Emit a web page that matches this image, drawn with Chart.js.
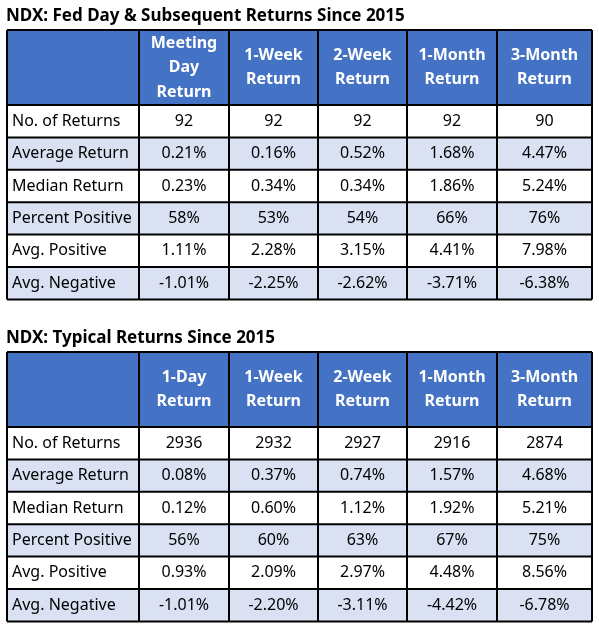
<!DOCTYPE html>
<html><head><meta charset="utf-8">
<script src="https://cdn.jsdelivr.net/npm/chart.js@4/dist/chart.umd.min.js"></script>
<style>html,body{margin:0;padding:0;background:#fff}#c{display:block}</style>
</head><body>
<div style="width:599px;height:633px"><canvas id="c"></canvas></div>
<script>
const rowLabels = ["No. of Returns","Average Return","Median Return","Percent Positive","Avg. Positive","Avg. Negative"];
const title1 = "NDX: Fed Day & Subsequent Returns Since 2015";
const headers1 = [["Meeting","Day","Return"],["1-Week","Return"],["2-Week","Return"],["1-Month","Return"],["3-Month","Return"]];
const fedCount = ["92","92","92","92","90"];
const fedAvg = ["0.21%","0.16%","0.52%","1.68%","4.47%"];
const fedMedian = ["0.23%","0.34%","0.34%","1.86%","5.24%"];
const fedPctPos = ["58%","53%","54%","66%","76%"];
const fedAvgPos = ["1.11%","2.28%","3.15%","4.41%","7.98%"];
const fedAvgNeg = ["-1.01%","-2.25%","-2.62%","-3.71%","-6.38%"];
const title2 = "NDX: Typical Returns Since 2015";
const headers2 = [["1-Day","Return"],["1-Week","Return"],["2-Week","Return"],["1-Month","Return"],["3-Month","Return"]];
const typCount = ["2936","2932","2927","2916","2874"];
const typAvg = ["0.08%","0.37%","0.74%","1.57%","4.68%"];
const typMedian = ["0.12%","0.60%","1.12%","1.92%","5.21%"];
const typPctPos = ["56%","60%","63%","67%","75%"];
const typAvgPos = ["0.93%","2.09%","2.97%","4.48%","8.56%"];
const typAvgNeg = ["-1.01%","-2.20%","-3.11%","-4.42%","-6.78%"];

const colEdges = [7,139,229,318,407,497,592];
const tables = [
  {title:title1, titleY:16, top:30, headH:75, headers:headers1, rows:[fedCount,fedAvg,fedMedian,fedPctPos,fedAvgPos,fedAvgNeg]},
  {title:title2, titleY:338, top:352, headH:75, headers:headers2, rows:[typCount,typAvg,typMedian,typPctPos,typAvgPos,typAvgNeg]}
];
const rowH = 32.4;
const FONT = '"Noto Sans", sans-serif';

const tablePlugin = {
  id:'tables',
  afterDraw(chart){
    const ctx = chart.ctx, xs = chart.scales.x, ys = chart.scales.y;
    const X = v=>xs.getPixelForValue(v), Y = v=>ys.getPixelForValue(v);
    ctx.save();
    tables.forEach(t=>{
      ctx.fillStyle='#000'; ctx.font='bold 17px '+FONT; ctx.textAlign='left'; ctx.textBaseline='middle';
      ctx.fillText(t.title, X(6), Y(t.titleY));
      const x0=X(colEdges[0]), x1=X(colEdges[colEdges.length-1]);
      ctx.fillStyle='#4472C4';
      ctx.fillRect(x0, Y(t.top), x1-x0, Y(t.top+t.headH)-Y(t.top));
      t.rows.forEach((r,i)=>{
        const yt=t.top+t.headH+i*rowH;
        ctx.fillStyle = i%2===1 ? '#D9E1F2' : '#FFFFFF';
        ctx.fillRect(x0, Y(yt), x1-x0, Y(yt+rowH)-Y(yt));
      });
      ctx.fillStyle='#fff'; ctx.font='bold 16px '+FONT; ctx.textAlign='center';
      t.headers.forEach((h,j)=>{
        const cx=(colEdges[j+1]+colEdges[j+2])/2;
        const mid=t.top+t.headH/2, lh=24.5;
        h.forEach((line,k)=>{
          ctx.fillText(line, X(cx), Y(mid+(k-(h.length-1)/2)*lh));
        });
      });
      ctx.font='16px '+FONT; ctx.fillStyle='#000';
      t.rows.forEach((r,i)=>{
        const cy=t.top+t.headH+i*rowH+rowH/2;
        ctx.textAlign='left';
        ctx.fillText(rowLabels[i], X(12), Y(cy));
        ctx.textAlign='center';
        r.forEach((v,j)=>{
          const cx=(colEdges[j+1]+colEdges[j+2])/2;
          ctx.fillText(v, X(cx), Y(cy));
        });
      });
      ctx.strokeStyle='#000'; ctx.lineWidth=2;
      const bottom=t.top+t.headH+t.rows.length*rowH;
      ctx.beginPath();
      colEdges.forEach(e=>{ctx.moveTo(X(e),Y(t.top));ctx.lineTo(X(e),Y(bottom));});
      ctx.moveTo(x0,Y(t.top));ctx.lineTo(x1,Y(t.top));
      for(let i=0;i<=t.rows.length;i++){const yy=Y(t.top+t.headH+i*rowH);ctx.moveTo(x0,yy);ctx.lineTo(x1,yy);}
      ctx.stroke();
    });
    ctx.restore();
  }
};

new Chart(document.getElementById('c'),{
  type:'scatter',
  data:{datasets:[{data:[]}]},
  options:{
    responsive:true, maintainAspectRatio:false, animation:false,
    layout:{padding:0},
    plugins:{legend:{display:false},tooltip:{enabled:false}},
    scales:{
      x:{type:'linear',min:0,max:599,display:false},
      y:{type:'linear',min:0,max:633,reverse:true,display:false}
    }
  },
  plugins:[tablePlugin]
});
</script>
</body></html>
